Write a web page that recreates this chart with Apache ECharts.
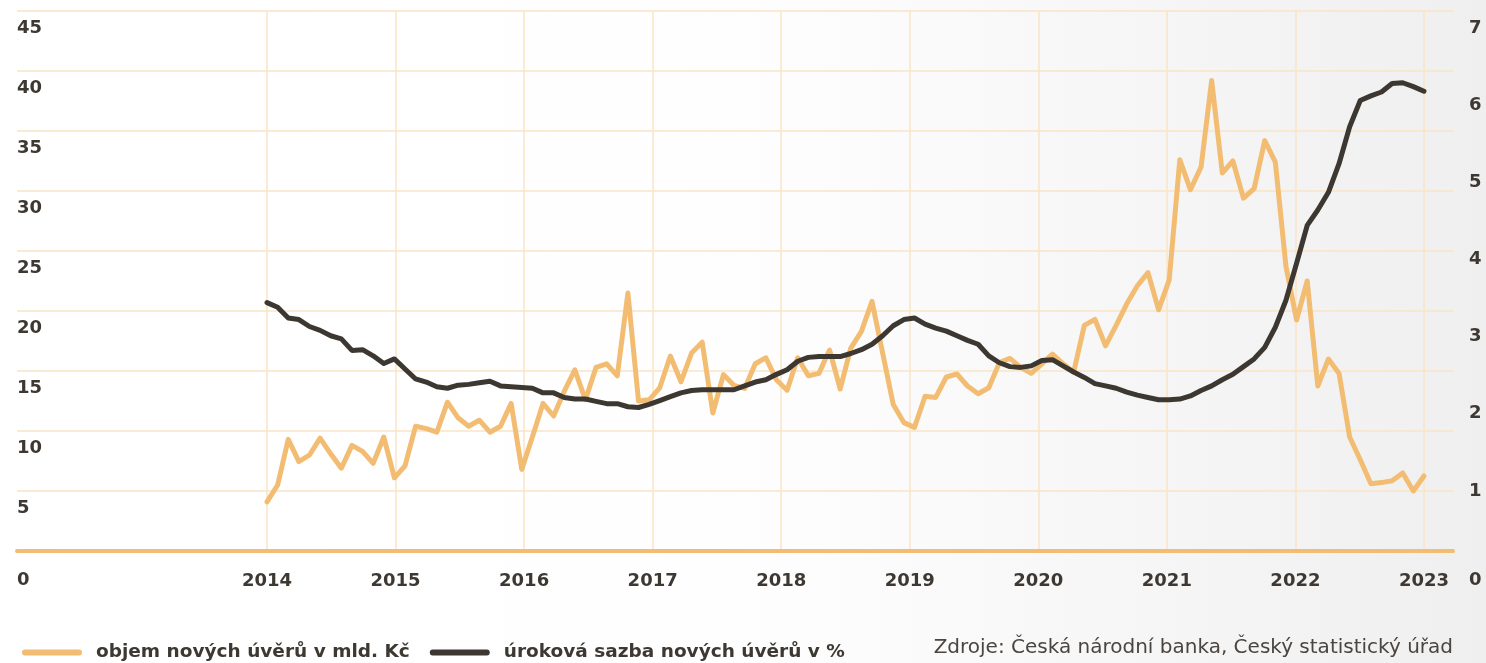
<!DOCTYPE html>
<html>
<head>
<meta charset="utf-8">
<script src="https://cdn.jsdelivr.net/npm/echarts@6/dist/echarts.min.js"></script>
<style>
  html, body { margin: 0; padding: 0; }
  #main { width: 1486px; height: 663px; }
</style>
</head>
<body>
<div id="main"></div>
<script>
// year ticks on the x axis
const years = [2014, 2015, 2016, 2017, 2018, 2019, 2020, 2021, 2022, 2023]

// objem nových úvěrů v mld. Kč (left axis), monthly points
const loanVolume = [
  4.1, 5.5, 9.3, 7.45, 8.0, 9.4, 8.1, 6.9, 8.8, 8.3, 7.3, 9.5,
  6.1, 7.1, 10.4, 10.2, 9.9, 12.4, 11.1, 10.4, 10.9, 9.9, 10.4, 12.3,
  6.8, 9.5, 12.3, 11.25, 13.3, 15.1, 12.6, 15.3, 15.6, 14.6, 21.5, 12.5,
  12.6, 13.6, 16.25, 14.1, 16.5, 17.4, 11.5, 14.7, 13.8, 13.55, 15.6, 16.1,
  14.25, 13.4, 16.1, 14.6, 14.8, 16.75, 13.5, 16.9, 18.3, 20.8, 16.5, 12.2,
  10.7, 10.3, 12.9, 12.8, 14.5, 14.75, 13.75, 13.1, 13.6, 15.7, 16.05, 15.3,
  14.8, 15.6, 16.4, 15.6, 14.9, 18.8, 19.3, 17.1, 18.8, 20.6, 22.1, 23.2,
  20.1, 22.6, 32.6, 30.1, 32.0, 39.2, 31.5, 32.5, 29.4, 30.2, 34.2, 32.4,
  23.7, 19.25, 22.5, 13.75, 16.0, 14.8, 9.5, 7.6, 5.6, 5.7, 5.85, 6.5,
  5.0, 6.25
]

// úroková sazba nových úvěrů v % (right axis)
const interestRate = [
  3.22, 3.16, 3.02, 3.00, 2.91, 2.86, 2.79, 2.75, 2.60, 2.61, 2.53, 2.43,
  2.49, 2.36, 2.23, 2.19, 2.13, 2.11, 2.15, 2.16, 2.18, 2.20, 2.14, 2.13,
  2.12, 2.11, 2.05, 2.05, 1.99, 1.97, 1.97, 1.94, 1.91, 1.91, 1.87, 1.86,
  1.90, 1.95, 2.00, 2.05, 2.08, 2.09, 2.09, 2.09, 2.09, 2.14, 2.19, 2.22,
  2.29, 2.35, 2.46, 2.51, 2.52, 2.52, 2.52, 2.56, 2.61, 2.68, 2.79, 2.92,
  3.00, 3.02, 2.94, 2.89, 2.85, 2.79, 2.73, 2.68, 2.53, 2.44, 2.39, 2.38,
  2.40, 2.47, 2.48, 2.40, 2.32, 2.25, 2.17, 2.14, 2.11, 2.06, 2.02, 1.99,
  1.96, 1.96, 1.97, 2.01, 2.08, 2.14, 2.22, 2.29, 2.39, 2.49, 2.64, 2.90,
  3.25, 3.73, 4.22, 4.42, 4.65, 5.02, 5.50, 5.84, 5.90, 5.95, 6.06, 6.07,
  6.02, 5.96
]

const seriesNames = ['objem nových úvěrů v mld. Kč', 'úroková sazba nových úvěrů v %']
const sourceText = 'Zdroje: Česká národní banka, Český statistický úřad'

const first = years[0]
const last = years[years.length - 1]
// the points are spread evenly from the first to the last year label
const toXY = (arr) => arr.map((v, i) => [first + i * (last - first) / (arr.length - 1), v])

const FONT = '"DejaVu Sans", sans-serif'
const DARK = '#3d3832'
const ORANGE = '#f2bd72'
const GRID = '#fbe4c6'

const yLabel = (v) => (v === 0 ? '{z|0}' : '{a|' + v + '}')
const yRich = {
  a: { fontFamily: FONT, fontSize: 18, fontWeight: 'bold', color: DARK, padding: [8, 0, 0, 0] },
  z: { fontFamily: FONT, fontSize: 18, fontWeight: 'bold', color: DARK, padding: [20, 0, 0, 0] }
}

const chart = echarts.init(document.getElementById('main'))

const option = {
  backgroundColor: new echarts.graphic.LinearGradient(0, 0, 1, 0, [
    { offset: 0, color: '#ffffff' },
    { offset: 0.5, color: '#fefefe' },
    { offset: 1, color: '#efefef' }
  ]),
  animation: false,
  grid: { left: 17, right: 33, top: 11, bottom: 112 },
  legend: {
    left: 17,
    top: 638,
    itemWidth: 60,
    itemHeight: 6,
    itemGap: 20,
    icon: 'path://M3,0 L57,0 A3,3 0 0 1 57,6 L3,6 A3,3 0 0 1 3,0 Z',
    formatter: (name) => '{t|' + name + '}',
    textStyle: {
      rich: { t: { fontFamily: FONT, fontSize: 18.5, fontWeight: 'bold', color: DARK, padding: [0, 0, 0, 9] } }
    },
    data: seriesNames
  },
  graphic: [
    {
      type: 'text',
      right: 33,
      top: 638,
      style: { text: sourceText, font: '20px "DejaVu Sans", sans-serif', fill: '#4a4540' }
    }
  ],
  xAxis: {
    type: 'value',
    min: 2012.055,
    max: 2023.226,
    axisLine: { show: true, lineStyle: { color: ORANGE, width: 4 } },
    axisTick: { show: false, customValues: years },
    splitLine: { show: true, lineStyle: { color: GRID, width: 1.5 } },
    axisLabel: {
      customValues: years,
      margin: 21,
      fontFamily: FONT,
      fontSize: 18,
      fontWeight: 'bold',
      color: DARK,
      formatter: (v) => String(v)
    }
  },
  yAxis: [
    {
      type: 'value',
      min: 0,
      max: 45,
      interval: 5,
      axisLine: { show: false },
      axisTick: { show: false },
      splitLine: { lineStyle: { color: GRID, width: 1.5 } },
      axisLabel: { inside: true, margin: 0, verticalAlign: 'top', formatter: yLabel, rich: yRich }
    },
    {
      type: 'value',
      position: 'right',
      min: 0,
      max: 7,
      interval: 1,
      axisLine: { show: false },
      axisTick: { show: false },
      splitLine: { show: false },
      axisLabel: { margin: 16, verticalAlign: 'top', formatter: yLabel, rich: yRich }
    }
  ],
  series: [
    {
      name: seriesNames[0],
      type: 'line',
      yAxisIndex: 0,
      color: ORANGE,
      symbol: 'none',
      lineStyle: { width: 5, color: ORANGE, join: 'round', cap: 'round' },
      data: toXY(loanVolume)
    },
    {
      name: seriesNames[1],
      type: 'line',
      yAxisIndex: 1,
      color: '#3d3731',
      symbol: 'none',
      lineStyle: { width: 5, color: '#3d3731', join: 'round', cap: 'round' },
      data: toXY(interestRate)
    }
  ]
}

chart.setOption(option)
</script>
</body>
</html>
